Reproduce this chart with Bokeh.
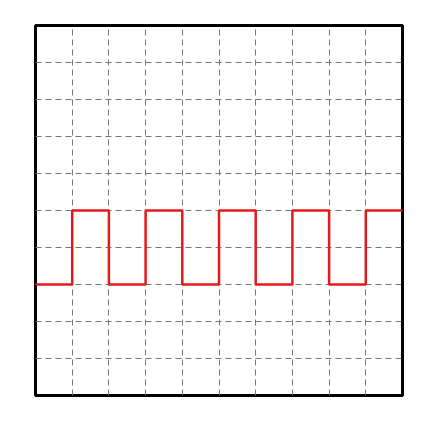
from bokeh.plotting import figure
from bokeh.models import Range1d, FixedTicker
from bokeh.embed import file_html
from bokeh.resources import INLINE

# square wave data
x_vals = [0, 1, 2, 3, 4, 5, 6, 7, 8, 9, 10]
y_vals = [3, 5, 3, 5, 3, 5, 3, 5, 3, 5, 5]
grid_ticks = [1, 2, 3, 4, 5, 6, 7, 8, 9]

p = figure(width=420, height=408, output_backend="svg", toolbar_location=None,
           x_range=Range1d(0, 10), y_range=Range1d(0, 10),
           min_border_left=35, min_border_right=18, min_border_top=25, min_border_bottom=13)

p.xaxis.visible = False
p.yaxis.visible = False
p.xaxis.ticker = FixedTicker(ticks=grid_ticks)
p.yaxis.ticker = FixedTicker(ticks=grid_ticks)
p.xgrid.ticker = FixedTicker(ticks=grid_ticks)
p.ygrid.ticker = FixedTicker(ticks=grid_ticks)
for g in (p.xgrid, p.ygrid):
    g.grid_line_color = "#777777"
    g.grid_line_dash = "6 4"
    g.grid_line_width = 1
    g.grid_line_alpha = 1.0

p.outline_line_color = "black"
p.outline_line_width = 3
p.outline_line_alpha = 1.0
p.background_fill_color = "white"
p.border_fill_color = "white"

p.step(x_vals, y_vals, mode="after", line_color="#e31a1c", line_width=2.5)

open("out.html", "w").write(file_html(p, INLINE))
